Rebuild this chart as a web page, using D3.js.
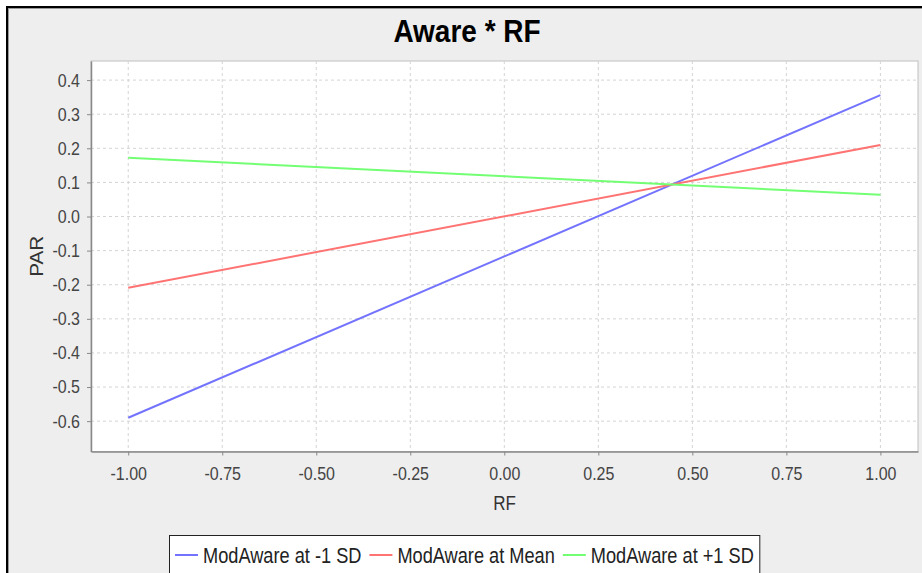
<!DOCTYPE html>
<html lang='en'>

<head>
    <meta charset='UTF-8'>
    <title>Aware * RF</title>
    <script src='https://d3js.org/d3.v7.min.js' charset='utf-8'></script>
    <style>
        body {
            margin: 0px;
            overflow: hidden;
            background: #ffffff;
        }

        svg text {
            font-family: 'Liberation Sans', Arial, sans-serif;
        }
    </style>
</head>

<body>
    <div id='chart'></div>
    <script>
        'use strict';

        // values
        const rfValues = [-1, 1];
        const lowSD = [-0.590, 0.356];
        const atMean = [-0.209, 0.210];
        const highSD = [0.172, 0.064];

        const seriesNames = ['ModAware at -1 SD', 'ModAware at Mean', 'ModAware at +1 SD'];
        const seriesValues = [lowSD, atMean, highSD];
        const seriesColors = ['#7373ff', '#ff7373', '#73ff73'];

        const xTicks = [-1, -0.75, -0.5, -0.25, 0, 0.25, 0.5, 0.75, 1];
        const yTicks = [-0.6, -0.5, -0.4, -0.3, -0.2, -0.1, 0, 0.1, 0.2, 0.3, 0.4];

        const W = 922, H = 573;
        const plot = { left: 91, right: 918, top: 61, bottom: 451.5 };
        const stretch = 'scale(1,1.15)';

        const svg = d3.select('#chart')
            .append('svg')
            .attr('width', W)
            .attr('height', H);

        // outer frame
        svg.append('rect')
            .attr('x', 6).attr('y', 6)
            .attr('width', W).attr('height', H)
            .attr('fill', '#000');
        svg.append('rect')
            .attr('x', 8.5).attr('y', 8.5)
            .attr('width', W).attr('height', H)
            .attr('fill', '#eeeeee')
            .attr('stroke', '#999');

        svg.append('text')
            .attr('transform', 'translate(467,42) scale(1,1.1)')
            .attr('text-anchor', 'middle')
            .attr('font-size', 28)
            .attr('font-weight', 'bold')
            .attr('fill', '#000')
            .text('Aware * RF');

        const x = d3.scaleLinear()
            .domain([-1.099, 1.1])
            .range([plot.left, plot.right]);

        const y = d3.scaleLinear()
            .domain([-0.689, 0.456])
            .range([plot.bottom, plot.top]);

        svg.append('rect')
            .attr('x', plot.left).attr('y', plot.top)
            .attr('width', plot.right - plot.left)
            .attr('height', plot.bottom - plot.top)
            .attr('fill', '#fff')
            .attr('stroke', '#c0c0c0');

        // grid
        svg.append('g')
            .selectAll('line')
            .data(xTicks)
            .join('line')
            .attr('x1', d => x(d)).attr('x2', d => x(d))
            .attr('y1', plot.top).attr('y2', plot.bottom)
            .attr('stroke', '#d4d4d4')
            .attr('stroke-dasharray', '3,3');
        svg.append('g')
            .selectAll('line')
            .data(yTicks)
            .join('line')
            .attr('x1', plot.left).attr('x2', plot.right)
            .attr('y1', d => y(d)).attr('y2', d => y(d))
            .attr('stroke', '#d4d4d4')
            .attr('stroke-dasharray', '3,3');

        // lines
        const line = d3.line()
            .x((d, i) => x(rfValues[i]))
            .y(d => y(d));

        svg.append('g')
            .selectAll('path')
            .data(seriesValues)
            .join('path')
            .attr('d', d => line(d))
            .attr('fill', 'none')
            .attr('stroke', (d, i) => seriesColors[i])
            .attr('stroke-width', 2);

        // axes
        const xAxis = svg.append('g')
            .attr('transform', `translate(0, ${plot.bottom})`)
            .call(d3.axisBottom(x)
                .tickValues(xTicks)
                .tickFormat(d => d.toFixed(2))
                .tickSizeInner(4)
                .tickSizeOuter(0)
                .tickPadding(9));

        const yAxis = svg.append('g')
            .attr('transform', `translate(${plot.left}, 0)`)
            .call(d3.axisLeft(y)
                .tickValues(yTicks)
                .tickFormat(d => d.toFixed(1))
                .tickSizeInner(4)
                .tickSizeOuter(0)
                .tickPadding(7));

        [xAxis, yAxis].forEach(a => {
            a.select('.domain').attr('stroke', '#888').attr('stroke-width', 1.5);
            a.selectAll('.tick line').attr('stroke', '#888');
            a.selectAll('.tick text')
                .attr('font-size', 16)
                .attr('font-family', "'Liberation Sans', Arial, sans-serif")
                .attr('fill', '#444')
                .attr('transform', stretch);
        });

        svg.append('text')
            .attr('transform', `translate(${(plot.left + plot.right) / 2},510) ${stretch}`)
            .attr('text-anchor', 'middle')
            .attr('font-size', 17)
            .attr('fill', '#333')
            .text('RF');

        svg.append('text')
            .attr('transform', `translate(43,${(plot.top + plot.bottom) / 2}) ${stretch} rotate(-90)`)
            .attr('text-anchor', 'middle')
            .attr('font-size', 18)
            .attr('fill', '#333')
            .text('PAR');

        // legend
        const legend = svg.append('g');
        const legendBox = legend.append('rect')
            .attr('x', 169.5).attr('y', 535.5)
            .attr('height', 60)
            .attr('fill', '#fff')
            .attr('stroke', '#222');

        let lx = 175;
        seriesNames.forEach((name, i) => {
            legend.append('line')
                .attr('x1', lx).attr('x2', lx + 23)
                .attr('y1', 555).attr('y2', 555)
                .attr('stroke', seriesColors[i])
                .attr('stroke-width', 2);
            const t = legend.append('text')
                .attr('transform', `translate(${lx + 28},562.5) scale(1,1.2)`)
                .attr('font-size', 18.2)
                .attr('fill', '#222')
                .text(name);
            lx += 28 + t.node().getComputedTextLength() + 8;
        });
        legendBox.attr('width', lx - 2 - 169.5);
    </script>
</body>

</html>
